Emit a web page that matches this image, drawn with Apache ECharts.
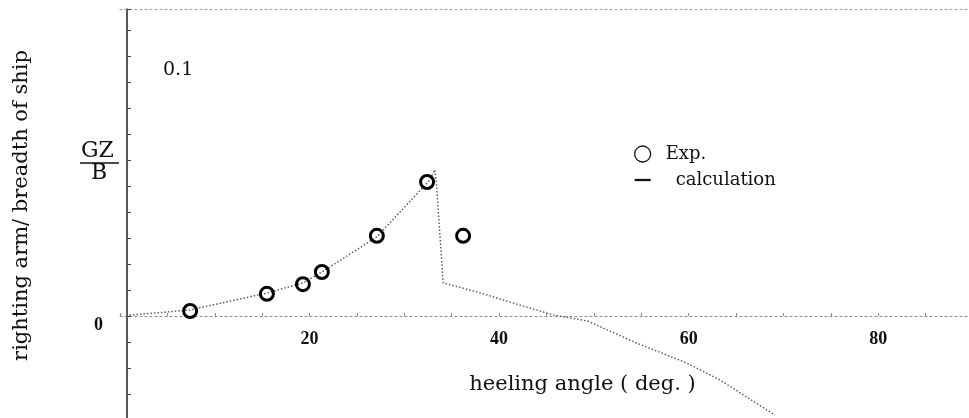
<!DOCTYPE html>
<html>
<head>
<meta charset="utf-8">
<script src="https://cdn.jsdelivr.net/npm/echarts@6/dist/echarts.min.js"></script>
<style>
  html, body { margin: 0; padding: 0; background: #fff; }
  #chart { width: 969px; height: 418px; }
</style>
</head>
<body>
<div id="chart"></div>
<script>
  // measured points (heeling angle deg, GZ/B)
  var expAngle = [7.4, 15.5, 19.3, 21.3, 27.1, 32.4, 36.2];
  var expGZ = [0.0019, 0.0085, 0.0122, 0.0169, 0.0308, 0.0515, 0.0308];

  // calculation curve
  var calcAngle = [1.0, 7.4, 15.5, 19.3, 21.3, 27.1, 32.7, 33.2, 33.4, 34.1, 37.7, 41.1, 45.7, 49.3, 54.5, 59.8, 63.3, 69.1];
  var calcGZ = [0.0003, 0.0023, 0.0088, 0.0127, 0.0169, 0.0304, 0.0523, 0.0562, 0.0504, 0.0127, 0.0092, 0.0054, 0.0004, -0.0019, -0.0104, -0.0181, -0.0246, -0.0381];

  var xTickLabels = [20, 40, 60, 80];
  var yTickLabels = [0];
  var yInnerLabels = [0.1];

  var serif = "'Liberation Serif', 'DejaVu Serif', serif";
  var wide = "'DejaVu Serif', serif";

  function pairs(xs, ys) {
    return xs.map(function (x, i) { return [x, ys[i]]; });
  }
  function hasTick(list, v) {
    return list.some(function (t) { return Math.abs(t - v) < 1e-9; });
  }

  var chart = echarts.init(document.getElementById('chart'));

  var option = {
    animation: false,
    backgroundColor: '#fff',
    grid: { left: 120, right: -4, top: 9, bottom: -2, containLabel: false, outerBoundsMode: 'none' },
    legend: {
      orient: 'vertical',
      left: 629,
      top: 140,
      itemWidth: 16,
      itemHeight: 16,
      itemGap: 8,
      textStyle: { fontFamily: wide, fontSize: 18, color: '#111' },
      data: [
        {
          name: 'Exp.',
          icon: 'circle',
          itemStyle: { color: 'rgba(0,0,0,0)', borderColor: '#111', borderWidth: 1.3 },
          textStyle: { padding: [0, 0, 0, 10] }
        },
        {
          name: 'calculation',
          icon: 'path://M0,0H14V2H0Z',
          itemStyle: { color: '#111' },
          textStyle: { padding: [0, 0, 0, 20] }
        }
      ]
    },
    xAxis: [
      {
        type: 'value',
        min: 0,
        max: 90,
        interval: 5,
        name: 'heeling angle ( deg. )',
        nameLocation: 'middle',
        nameGap: 58,
        nameTextStyle: { fontFamily: wide, fontSize: 21, color: '#111', padding: [0, 0, 0, 72] },
        offset: -104,
        axisLine: { onZero: false, lineStyle: { color: '#888', type: [2, 3], width: 1 } },
        axisTick: { show: true, inside: true, length: 3, lineStyle: { color: '#888' } },
        axisLabel: {
          margin: 14,
          fontFamily: serif,
          fontSize: 18,
          fontWeight: 'bold',
          color: '#111',
          formatter: function (v) { return hasTick(xTickLabels, v) ? String(v) : ''; }
        },
        splitLine: { show: false }
      },
      {
        type: 'value',
        position: 'top',
        min: 0,
        max: 90,
        axisLine: { show: true, onZero: false, lineStyle: { color: '#999', type: [2, 3], width: 1 } },
        axisTick: { show: false },
        axisLabel: { show: false },
        splitLine: { show: false }
      }
    ],
    yAxis: [
      {
        type: 'value',
        position: 'left',
        offset: -7,
        min: -0.04,
        max: 0.118,
        interval: 0.01,
        name: 'righting arm/ breadth of ship',
        nameLocation: 'middle',
        nameGap: 95,
        nameTextStyle: { fontFamily: wide, fontSize: 21, color: '#111', padding: [0, 0, 0, 18] },
        axisLine: { show: true, onZero: false, lineStyle: { color: '#222', width: 1.5 } },
        axisTick: { show: true, inside: true, length: 4, lineStyle: { color: '#444' } },
        axisLabel: {
          margin: 24,
          verticalAlign: 'top',
          fontFamily: serif,
          fontSize: 18,
          fontWeight: 'bold',
          color: '#111',
          formatter: function (v) { return hasTick(yTickLabels, v) ? String(v) : ''; }
        },
        splitLine: { show: false }
      },
      {
        type: 'value',
        position: 'left',
        offset: -7,
        min: -0.04,
        max: 0.118,
        interval: 0.01,
        axisLine: { show: false },
        axisTick: { show: false },
        axisLabel: {
          inside: true,
          margin: 36,
          verticalAlign: 'top',
          padding: [5, 0, 0, 0],
          fontFamily: wide,
          fontSize: 19,
          color: '#111',
          formatter: function (v) { return hasTick(yInnerLabels, v) ? '0.1' : ''; }
        },
        splitLine: { show: false }
      }
    ],
    graphic: [
      { type: 'text', left: 81, top: 140, style: { text: 'GZ', font: '22px ' + wide, fill: '#111' } },
      { type: 'line', shape: { x1: 80, y1: 163, x2: 119, y2: 163 }, style: { stroke: '#111', lineWidth: 1.5 } },
      { type: 'text', left: 91, top: 162, style: { text: 'B', font: '22px ' + wide, fill: '#111' } }
    ],
    series: [
      {
        name: 'calculation',
        type: 'line',
        data: pairs(calcAngle, calcGZ),
        showSymbol: false,
        symbol: 'none',
        z: 2,
        lineStyle: { color: '#555', width: 1.4, type: [1.5, 2] }
      },
      {
        name: 'Exp.',
        type: 'scatter',
        data: pairs(expAngle, expGZ),
        symbol: 'circle',
        symbolSize: 13,
        z: 3,
        itemStyle: { color: 'rgba(0,0,0,0)', borderColor: '#000', borderWidth: 3, opacity: 1 }
      }
    ]
  };

  chart.setOption(option);
</script>
</body>
</html>
